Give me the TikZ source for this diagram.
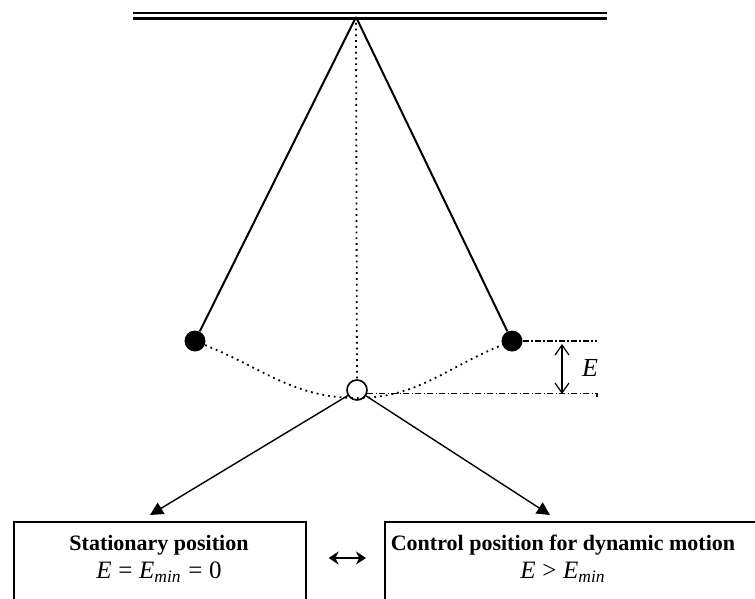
\documentclass[tikz,border=0pt]{standalone}
\usepackage{fontspec}
\setmainfont{Liberation Serif}
\usetikzlibrary{arrows.meta,calc}

\newcommand{\eqline}[1]{{\fontsize{12.5}{14}\selectfont #1}}

\begin{document}
\begin{tikzpicture}[x=0.5pt,y=-0.5pt,
  bob/.style={circle, fill=black, inner sep=0pt, minimum size=10.5pt},
  rest/.style={circle, draw=black, line width=0.8pt, inner sep=0pt, minimum size=10pt},
  rod/.style={line width=1pt},
  guide/.style={dotted, line width=0.9pt},
  level/.style={line width=0.6pt, dash pattern=on 3pt off 1.2pt on 0.6pt off 1.2pt},
  ar/.style={-{Triangle[length=6.5pt,width=6.5pt]}, line width=0.7pt},
  frame/.style={rectangle, draw=black, line width=0.8pt, anchor=north west,
                inner sep=0pt, minimum height=60pt},
  lbl/.style={font=\fontsize{11}{14}\selectfont, align=center},
]
\clip (0,0) rectangle (755,599);

% ceiling
\draw[line width=1.2pt] (133,13) -- (607,13);
\draw[line width=1.2pt] (133,18.5) -- (607,18.5);
\coordinate (pivot) at (356,17);

\node[bob]  (lbob) at (195,341) {};
\node[bob]  (rbob) at (512,341) {};
\node[rest] (low)  at (357,390) {};
\coordinate (arcB) at (357,398);

\draw[rod] (pivot) -- (lbob);
\draw[rod] (pivot) -- (rbob);
\draw[guide] (pivot) -- (low);
\draw[guide] (lbob) to[out=-22,in=180] (arcB) to[out=0,in=-158] (rbob);

% energy levels
\coordinate (lvlT) at (597,341);
\coordinate (lvlB) at (597,397);
\draw[level] (rbob) -- (lvlT);
\draw[level] (low.-20) -- (low.-20 -| lvlB) -- (lvlB);
\draw[{Straight Barb[length=5pt,width=7pt]}-{Straight Barb[length=5pt,width=7pt]}, line width=0.6pt]
  ($(lvlT)+(-35,3)$) -- ($(lvlB)+(-35,-3)$);
\node[font=\fontsize{13}{15}\selectfont\itshape] (elbl) at (590,368) {E};

% states
\node[frame, minimum width=146pt] (statbox) at (13,521) {};
\node[frame, minimum width=190pt] (ctrlbox) at (384,521) {};
\node[lbl] (stat) at (159,559)
  {\textbf{Stationary position}\\
   \eqline{\textit{E}$\;$=$\;$\textit{E}\textsubscript{\textit{min}}$\;$=$\;$0}};
\node[lbl] (ctrl) at (563,559)
  {\textbf{Control position for dynamic motion}\\
   \eqline{\textit{E}$\;$>$\;$\textit{E}\textsubscript{\textit{min}}}};

\coordinate (tipL) at (150,515);
\coordinate (tipR) at (550,515);
\draw[ar] (low) -- (tipL);
\draw[ar] (low) -- (tipR);

\draw[{Stealth[length=5pt,width=6.5pt]}-{Stealth[length=5pt,width=6.5pt]}, line width=1pt,
      shorten <=11pt, shorten >=9pt]
  ($(statbox.north east)+(0,37)$) -- ($(ctrlbox.north west)+(0,37)$);

\end{tikzpicture}
\end{document}
